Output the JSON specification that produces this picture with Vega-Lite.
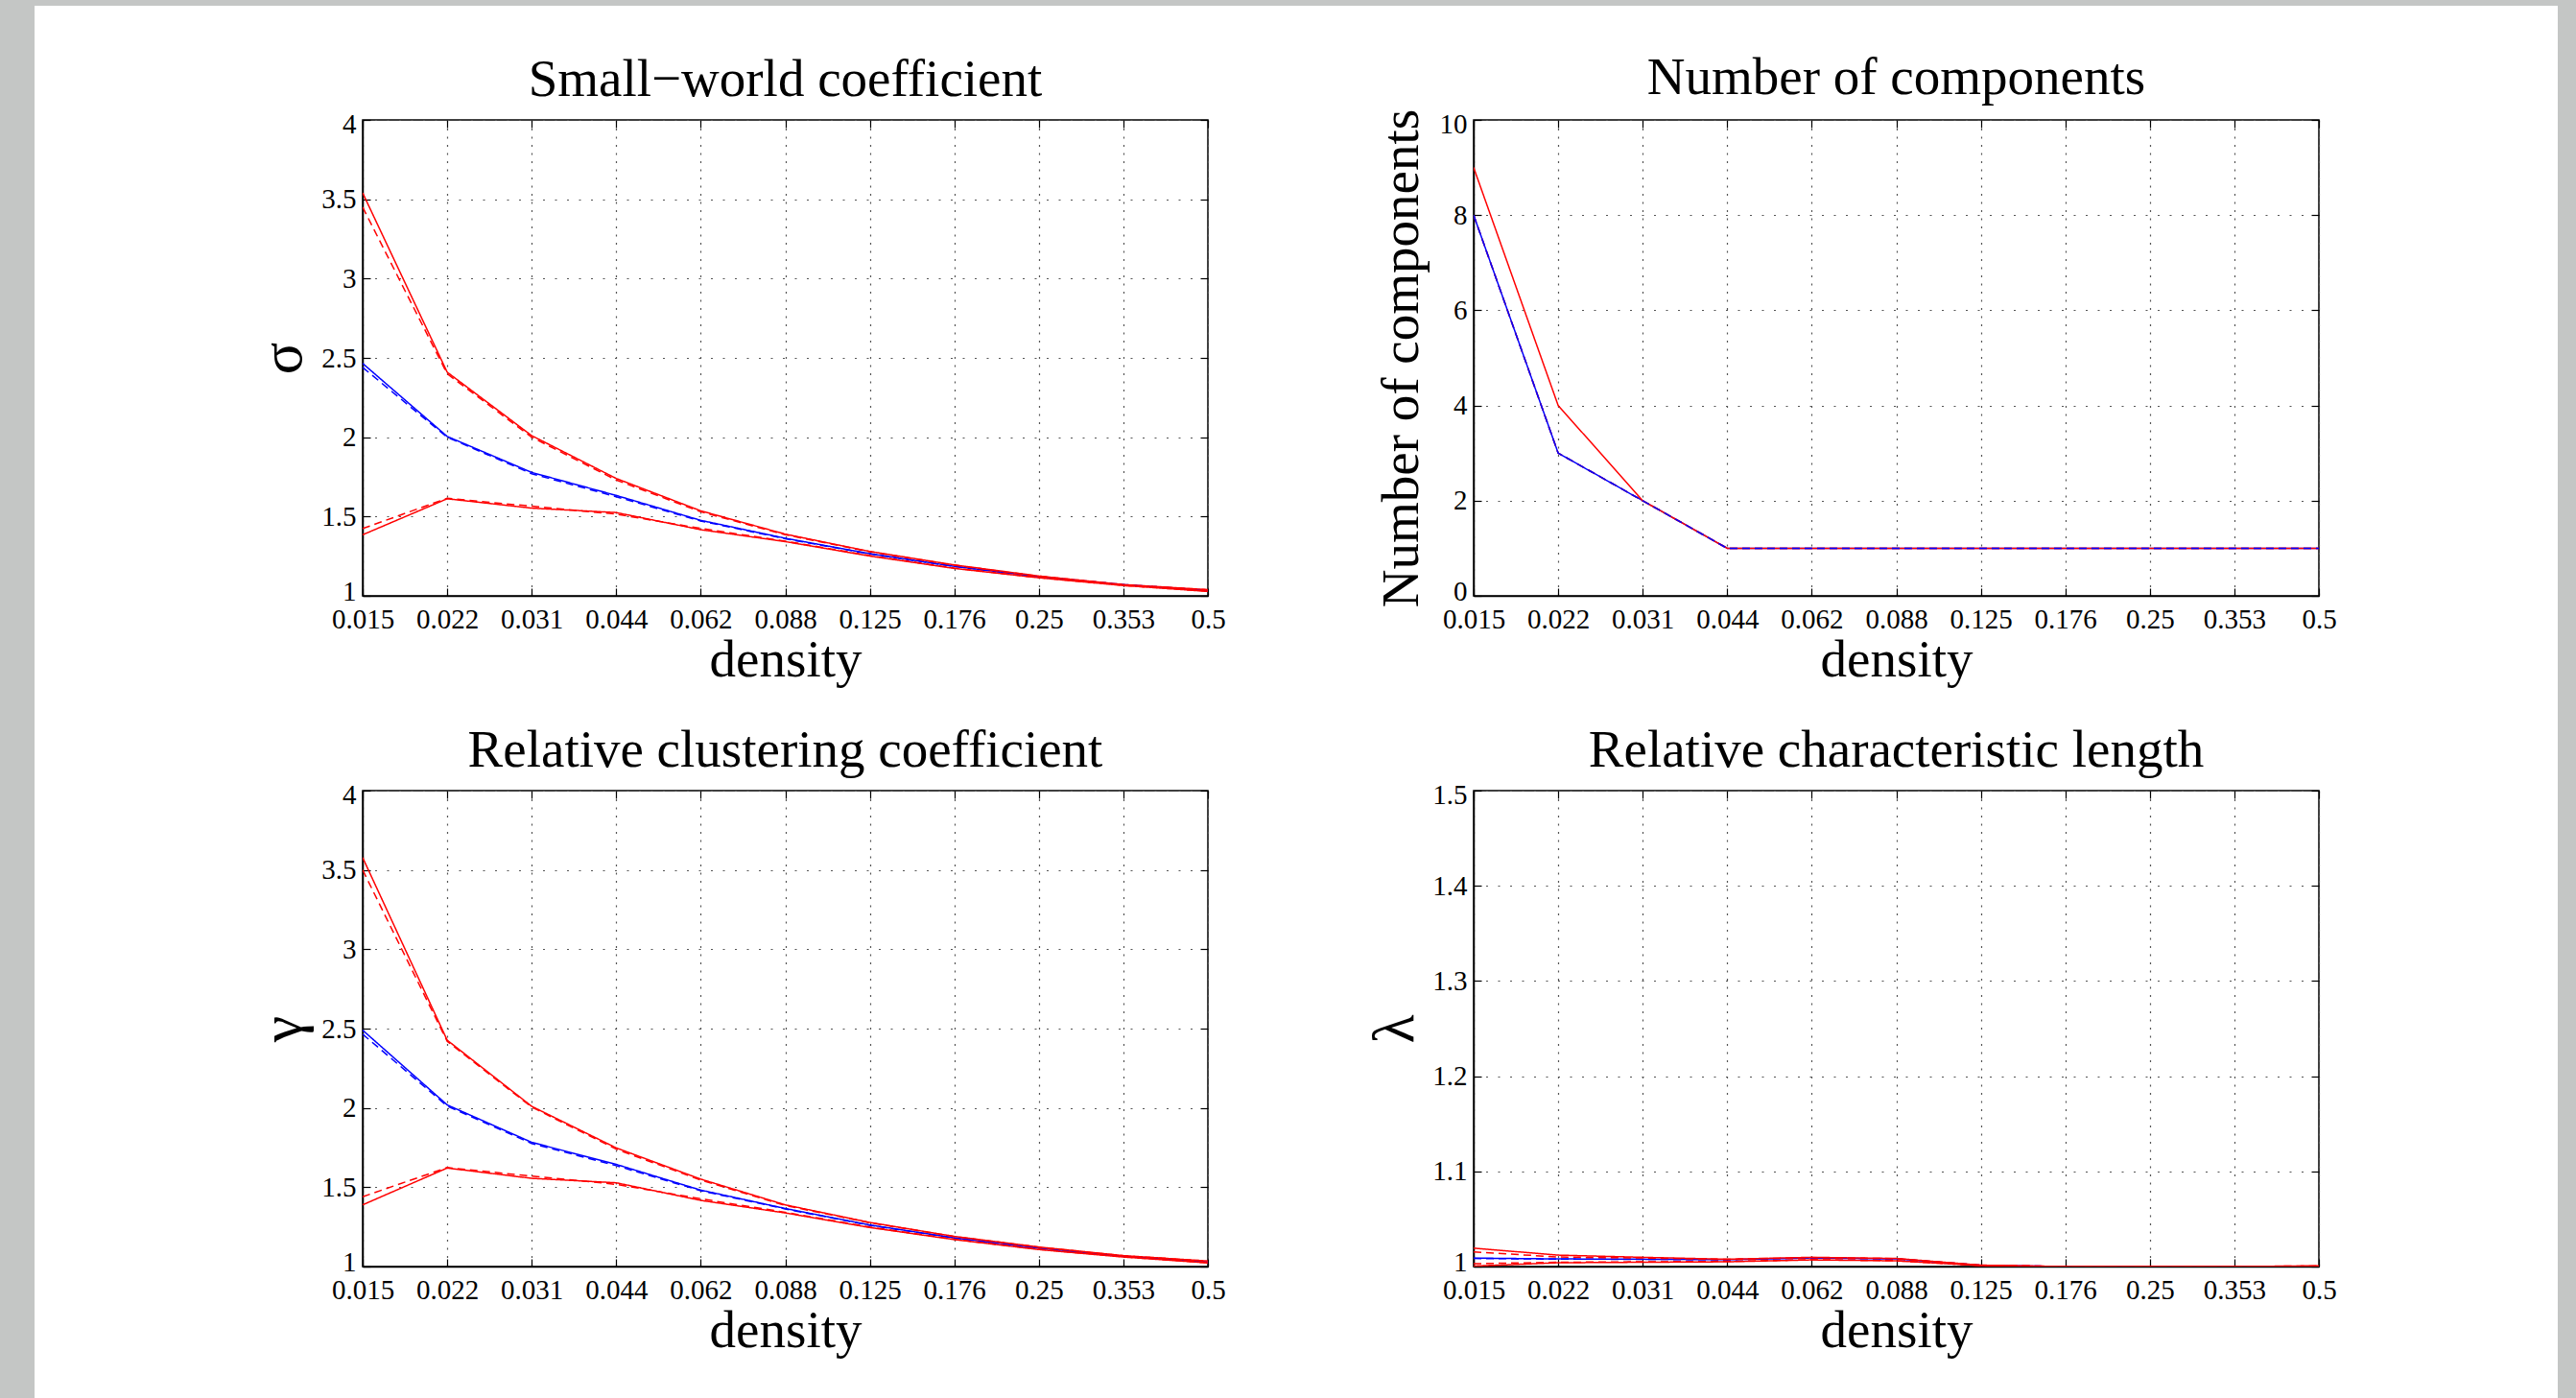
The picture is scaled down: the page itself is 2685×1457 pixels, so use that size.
{
  "$schema": "https://vega.github.io/schema/vega-lite/v6.json",
  "background": "white",
  "padding": 0,
  "datasets": {
    "sigma": [
      {"d":"0.015","s":"b","v":2.465},{"d":"0.022","s":"b","v":2.005},{"d":"0.031","s":"b","v":1.778},{"d":"0.044","s":"b","v":1.633},{"d":"0.062","s":"b","v":1.476},{"d":"0.088","s":"b","v":1.363},{"d":"0.125","s":"b","v":1.266},{"d":"0.176","s":"b","v":1.186},{"d":"0.25","s":"b","v":1.121},{"d":"0.353","s":"b","v":1.071},{"d":"0.5","s":"b","v":1.035},
      {"d":"0.015","s":"bd","v":2.44},{"d":"0.022","s":"bd","v":2.0},{"d":"0.031","s":"bd","v":1.77},{"d":"0.044","s":"bd","v":1.625},{"d":"0.062","s":"bd","v":1.472},{"d":"0.088","s":"bd","v":1.36},{"d":"0.125","s":"bd","v":1.264},{"d":"0.176","s":"bd","v":1.185},{"d":"0.25","s":"bd","v":1.12},{"d":"0.353","s":"bd","v":1.07},{"d":"0.5","s":"bd","v":1.034},
      {"d":"0.015","s":"ru","v":3.54},{"d":"0.022","s":"ru","v":2.41},{"d":"0.031","s":"ru","v":2.01},{"d":"0.044","s":"ru","v":1.74},{"d":"0.062","s":"ru","v":1.536},{"d":"0.088","s":"ru","v":1.389},{"d":"0.125","s":"ru","v":1.28},{"d":"0.176","s":"ru","v":1.195},{"d":"0.25","s":"ru","v":1.125},{"d":"0.353","s":"ru","v":1.071},{"d":"0.5","s":"ru","v":1.039},
      {"d":"0.015","s":"rud","v":3.45},{"d":"0.022","s":"rud","v":2.40},{"d":"0.031","s":"rud","v":2.0},{"d":"0.044","s":"rud","v":1.73},{"d":"0.062","s":"rud","v":1.53},{"d":"0.088","s":"rud","v":1.385},{"d":"0.125","s":"rud","v":1.278},{"d":"0.176","s":"rud","v":1.193},{"d":"0.25","s":"rud","v":1.124},{"d":"0.353","s":"rud","v":1.07},{"d":"0.5","s":"rud","v":1.038},
      {"d":"0.015","s":"rl","v":1.385},{"d":"0.022","s":"rl","v":1.612},{"d":"0.031","s":"rl","v":1.553},{"d":"0.044","s":"rl","v":1.525},{"d":"0.062","s":"rl","v":1.417},{"d":"0.088","s":"rl","v":1.342},{"d":"0.125","s":"rl","v":1.251},{"d":"0.176","s":"rl","v":1.173},{"d":"0.25","s":"rl","v":1.114},{"d":"0.353","s":"rl","v":1.065},{"d":"0.5","s":"rl","v":1.028},
      {"d":"0.015","s":"rld","v":1.424},{"d":"0.022","s":"rld","v":1.615},{"d":"0.031","s":"rld","v":1.565},{"d":"0.044","s":"rld","v":1.515},{"d":"0.062","s":"rld","v":1.425},{"d":"0.088","s":"rld","v":1.345},{"d":"0.125","s":"rld","v":1.254},{"d":"0.176","s":"rld","v":1.175},{"d":"0.25","s":"rld","v":1.115},{"d":"0.353","s":"rld","v":1.066},{"d":"0.5","s":"rld","v":1.029}
    ],
    "gamma": [
      {"d":"0.015","s":"b","v":2.49},{"d":"0.022","s":"b","v":2.019},{"d":"0.031","s":"b","v":1.783},{"d":"0.044","s":"b","v":1.644},{"d":"0.062","s":"b","v":1.482},{"d":"0.088","s":"b","v":1.366},{"d":"0.125","s":"b","v":1.262},{"d":"0.176","s":"b","v":1.181},{"d":"0.25","s":"b","v":1.116},{"d":"0.353","s":"b","v":1.065},{"d":"0.5","s":"b","v":1.028},
      {"d":"0.015","s":"bd","v":2.465},{"d":"0.022","s":"bd","v":2.012},{"d":"0.031","s":"bd","v":1.776},{"d":"0.044","s":"bd","v":1.636},{"d":"0.062","s":"bd","v":1.478},{"d":"0.088","s":"bd","v":1.363},{"d":"0.125","s":"bd","v":1.26},{"d":"0.176","s":"bd","v":1.18},{"d":"0.25","s":"bd","v":1.115},{"d":"0.353","s":"bd","v":1.064},{"d":"0.5","s":"bd","v":1.027},
      {"d":"0.015","s":"ru","v":3.578},{"d":"0.022","s":"ru","v":2.427},{"d":"0.031","s":"ru","v":2.01},{"d":"0.044","s":"ru","v":1.748},{"d":"0.062","s":"ru","v":1.551},{"d":"0.088","s":"ru","v":1.389},{"d":"0.125","s":"ru","v":1.278},{"d":"0.176","s":"ru","v":1.19},{"d":"0.25","s":"ru","v":1.123},{"d":"0.353","s":"ru","v":1.069},{"d":"0.5","s":"ru","v":1.035},
      {"d":"0.015","s":"rud","v":3.5},{"d":"0.022","s":"rud","v":2.42},{"d":"0.031","s":"rud","v":2.005},{"d":"0.044","s":"rud","v":1.74},{"d":"0.062","s":"rud","v":1.545},{"d":"0.088","s":"rud","v":1.385},{"d":"0.125","s":"rud","v":1.276},{"d":"0.176","s":"rud","v":1.189},{"d":"0.25","s":"rud","v":1.122},{"d":"0.353","s":"rud","v":1.068},{"d":"0.5","s":"rud","v":1.034},
      {"d":"0.015","s":"rl","v":1.389},{"d":"0.022","s":"rl","v":1.621},{"d":"0.031","s":"rl","v":1.556},{"d":"0.044","s":"rl","v":1.528},{"d":"0.062","s":"rl","v":1.417},{"d":"0.088","s":"rl","v":1.338},{"d":"0.125","s":"rl","v":1.246},{"d":"0.176","s":"rl","v":1.17},{"d":"0.25","s":"rl","v":1.107},{"d":"0.353","s":"rl","v":1.06},{"d":"0.5","s":"rl","v":1.023},
      {"d":"0.015","s":"rld","v":1.44},{"d":"0.022","s":"rld","v":1.624},{"d":"0.031","s":"rld","v":1.57},{"d":"0.044","s":"rld","v":1.518},{"d":"0.062","s":"rld","v":1.427},{"d":"0.088","s":"rld","v":1.342},{"d":"0.125","s":"rld","v":1.249},{"d":"0.176","s":"rld","v":1.172},{"d":"0.25","s":"rld","v":1.109},{"d":"0.353","s":"rld","v":1.061},{"d":"0.5","s":"rld","v":1.024}
    ],
    "comp": [
      {"d":"0.015","s":"b","v":8},{"d":"0.022","s":"b","v":3},{"d":"0.031","s":"b","v":2},{"d":"0.044","s":"b","v":1},{"d":"0.062","s":"b","v":1},{"d":"0.088","s":"b","v":1},{"d":"0.125","s":"b","v":1},{"d":"0.176","s":"b","v":1},{"d":"0.25","s":"b","v":1},{"d":"0.353","s":"b","v":1},{"d":"0.5","s":"b","v":1},
      {"d":"0.015","s":"rld","v":8},{"d":"0.022","s":"rld","v":3},{"d":"0.031","s":"rld","v":2},{"d":"0.044","s":"rld","v":1},{"d":"0.062","s":"rld","v":1},{"d":"0.088","s":"rld","v":1},{"d":"0.125","s":"rld","v":1},{"d":"0.176","s":"rld","v":1},{"d":"0.25","s":"rld","v":1},{"d":"0.353","s":"rld","v":1},{"d":"0.5","s":"rld","v":1},
      {"d":"0.015","s":"ru","v":9},{"d":"0.022","s":"ru","v":4},{"d":"0.031","s":"ru","v":2},{"d":"0.044","s":"ru","v":1},{"d":"0.062","s":"ru","v":1},{"d":"0.088","s":"ru","v":1},{"d":"0.125","s":"ru","v":1},{"d":"0.176","s":"ru","v":1},{"d":"0.25","s":"ru","v":1},{"d":"0.353","s":"ru","v":1},{"d":"0.5","s":"ru","v":1},
      {"d":"0.015","s":"bd","v":8},{"d":"0.022","s":"bd","v":3},{"d":"0.031","s":"bd","v":2},{"d":"0.044","s":"bd","v":1},{"d":"0.062","s":"bd","v":1},{"d":"0.088","s":"bd","v":1},{"d":"0.125","s":"bd","v":1},{"d":"0.176","s":"bd","v":1},{"d":"0.25","s":"bd","v":1},{"d":"0.353","s":"bd","v":1},{"d":"0.5","s":"bd","v":1}
    ],
    "lambda": [
      {"d":"0.015","s":"b","v":1.0089},{"d":"0.022","s":"b","v":1.008},{"d":"0.031","s":"b","v":1.0077},{"d":"0.044","s":"b","v":1.0072},{"d":"0.062","s":"b","v":1.009},{"d":"0.088","s":"b","v":1.008},{"d":"0.125","s":"b","v":1.0013},{"d":"0.176","s":"b","v":1.0},{"d":"0.25","s":"b","v":1.0},{"d":"0.353","s":"b","v":1.0},{"d":"0.5","s":"b","v":1.0003},
      {"d":"0.015","s":"bd","v":1.0085},{"d":"0.022","s":"bd","v":1.0078},{"d":"0.031","s":"bd","v":1.0076},{"d":"0.044","s":"bd","v":1.0071},{"d":"0.062","s":"bd","v":1.0089},{"d":"0.088","s":"bd","v":1.0079},{"d":"0.125","s":"bd","v":1.0013},{"d":"0.176","s":"bd","v":1.0},{"d":"0.25","s":"bd","v":1.0},{"d":"0.353","s":"bd","v":1.0},{"d":"0.5","s":"bd","v":1.0003},
      {"d":"0.015","s":"ru","v":1.0193},{"d":"0.022","s":"ru","v":1.012},{"d":"0.031","s":"ru","v":1.0097},{"d":"0.044","s":"ru","v":1.0077},{"d":"0.062","s":"ru","v":1.0097},{"d":"0.088","s":"ru","v":1.0085},{"d":"0.125","s":"ru","v":1.0015},{"d":"0.176","s":"ru","v":1.0},{"d":"0.25","s":"ru","v":1.0},{"d":"0.353","s":"ru","v":1.0},{"d":"0.5","s":"ru","v":1.0008},
      {"d":"0.015","s":"rud","v":1.0154},{"d":"0.022","s":"rud","v":1.010},{"d":"0.031","s":"rud","v":1.009},{"d":"0.044","s":"rud","v":1.0075},{"d":"0.062","s":"rud","v":1.0095},{"d":"0.088","s":"rud","v":1.0083},{"d":"0.125","s":"rud","v":1.0014},{"d":"0.176","s":"rud","v":1.0},{"d":"0.25","s":"rud","v":1.0},{"d":"0.353","s":"rud","v":1.0},{"d":"0.5","s":"rud","v":1.0007},
      {"d":"0.015","s":"rl","v":1.0005},{"d":"0.022","s":"rl","v":1.004},{"d":"0.031","s":"rl","v":1.0045},{"d":"0.044","s":"rl","v":1.005},{"d":"0.062","s":"rl","v":1.007},{"d":"0.088","s":"rl","v":1.006},{"d":"0.125","s":"rl","v":1.001},{"d":"0.176","s":"rl","v":1.0},{"d":"0.25","s":"rl","v":1.0},{"d":"0.353","s":"rl","v":1.0},{"d":"0.5","s":"rl","v":1.0},
      {"d":"0.015","s":"rld","v":1.003},{"d":"0.022","s":"rld","v":1.0045},{"d":"0.031","s":"rld","v":1.005},{"d":"0.044","s":"rld","v":1.0055},{"d":"0.062","s":"rld","v":1.0072},{"d":"0.088","s":"rld","v":1.0062},{"d":"0.125","s":"rld","v":1.001},{"d":"0.176","s":"rld","v":1.0},{"d":"0.25","s":"rld","v":1.0},{"d":"0.353","s":"rld","v":1.0},{"d":"0.5","s":"rld","v":1.0}
    ],
    "blank": [{"k": 1}]
  },
  "spacing": 0,
  "hconcat": [
    {"width": 36, "height": 1457, "data": {"name": "blank"}, "mark": {"type": "point", "opacity": 0}, "view": {"fill": "#c4c6c5", "stroke": null}},
    {
      "spacing": 47,
      "vconcat": [
        {"width": 2630, "height": 6, "data": {"name": "blank"}, "mark": {"type": "point", "opacity": 0}, "view": {"fill": "#c4c6c5", "stroke": null}},
        {
          "spacing": 143,
          "hconcat": [
            {"width": 82.5, "height": 10, "data": {"name": "blank"}, "mark": {"type": "point", "opacity": 0}, "view": {"stroke": null}},
            {
              "spacing": 203,
              "bounds": "flush",
              "vconcat": [
                {
                  "width": 881, "height": 496,
                  "title": "Small−world coefficient",
                  "data": {"name": "sigma"},
                  "layer": [
                    {
                      "mark": {"type": "line", "strokeWidth": 1.5, "clip": true},
                      "encoding": {
                        "x": {"field": "d", "type": "ordinal", "sort": ["0.015","0.022","0.031","0.044","0.062","0.088","0.125","0.176","0.25","0.353","0.5"], "scale": {"type": "point", "padding": 0}, "axis": {"title": "density"}},
                        "y": {"field": "v", "type": "quantitative", "scale": {"domain": [1, 4], "nice": false, "zero": false}, "axis": {"title": "σ", "titleFontSize": 62, "titlePadding": 22.5, "values": [1, 1.5, 2, 2.5, 3, 3.5, 4], "format": "~r"}},
                        "color": {"field": "s", "type": "nominal", "scale": {"domain": ["b","bd","ru","rud","rl","rld"], "range": ["#0000ff","#0000ff","#ff0000","#ff0000","#ff0000","#ff0000"]}, "legend": null},
                        "strokeDash": {"field": "s", "type": "nominal", "scale": {"domain": ["b","bd","ru","rud","rl","rld"], "range": [[1,0],[8,5],[1,0],[8,5],[1,0],[8,5]]}, "legend": null}
                      }
                    },
                    {
                      "mark": {"type": "point", "opacity": 0},
                      "encoding": {
                        "x": {"field": "d", "type": "ordinal", "sort": ["0.015","0.022","0.031","0.044","0.062","0.088","0.125","0.176","0.25","0.353","0.5"], "axis": {"orient": "top", "labels": false, "title": null, "grid": false, "domain": false, "minExtent": 0, "maxExtent": 0}},
                        "y": {"field": "v", "type": "quantitative", "axis": {"orient": "right", "labels": false, "title": null, "grid": false, "domain": false, "values": [1, 1.5, 2, 2.5, 3, 3.5, 4], "minExtent": 0, "maxExtent": 0}}
                      }
                    }
                  ],
                  "resolve": {"axis": {"x": "independent", "y": "independent"}}
                },
                {
                  "width": 881, "height": 496,
                  "title": "Relative clustering coefficient",
                  "data": {"name": "gamma"},
                  "layer": [
                    {
                      "mark": {"type": "line", "strokeWidth": 1.5, "clip": true},
                      "encoding": {
                        "x": {"field": "d", "type": "ordinal", "sort": ["0.015","0.022","0.031","0.044","0.062","0.088","0.125","0.176","0.25","0.353","0.5"], "scale": {"type": "point", "padding": 0}, "axis": {"title": "density"}},
                        "y": {"field": "v", "type": "quantitative", "scale": {"domain": [1, 4], "nice": false, "zero": false}, "axis": {"title": "γ", "titleFontSize": 62, "titlePadding": 22.5, "values": [1, 1.5, 2, 2.5, 3, 3.5, 4], "format": "~r"}},
                        "color": {"field": "s", "type": "nominal", "scale": {"domain": ["b","bd","ru","rud","rl","rld"], "range": ["#0000ff","#0000ff","#ff0000","#ff0000","#ff0000","#ff0000"]}, "legend": null},
                        "strokeDash": {"field": "s", "type": "nominal", "scale": {"domain": ["b","bd","ru","rud","rl","rld"], "range": [[1,0],[8,5],[1,0],[8,5],[1,0],[8,5]]}, "legend": null}
                      }
                    },
                    {
                      "mark": {"type": "point", "opacity": 0},
                      "encoding": {
                        "x": {"field": "d", "type": "ordinal", "sort": ["0.015","0.022","0.031","0.044","0.062","0.088","0.125","0.176","0.25","0.353","0.5"], "axis": {"orient": "top", "labels": false, "title": null, "grid": false, "domain": false, "minExtent": 0, "maxExtent": 0}},
                        "y": {"field": "v", "type": "quantitative", "axis": {"orient": "right", "labels": false, "title": null, "grid": false, "domain": false, "values": [1, 1.5, 2, 2.5, 3, 3.5, 4], "minExtent": 0, "maxExtent": 0}}
                      }
                    }
                  ],
                  "resolve": {"axis": {"x": "independent", "y": "independent"}}
                }
              ]
            },
            {
              "spacing": 203,
              "bounds": "flush",
              "vconcat": [
                {
                  "width": 881, "height": 496,
                  "title": "Number of components",
                  "data": {"name": "comp"},
                  "layer": [
                    {
                      "mark": {"type": "line", "strokeWidth": 1.5, "clip": true},
                      "encoding": {
                        "x": {"field": "d", "type": "ordinal", "sort": ["0.015","0.022","0.031","0.044","0.062","0.088","0.125","0.176","0.25","0.353","0.5"], "scale": {"type": "point", "padding": 0}, "axis": {"title": "density"}},
                        "y": {"field": "v", "type": "quantitative", "scale": {"domain": [0, 10], "nice": false}, "axis": {"title": "Number of components", "titlePadding": 16.5, "values": [0, 2, 4, 6, 8, 10], "format": "~r"}},
                        "color": {"field": "s", "type": "nominal", "scale": {"domain": ["b","rld","ru","bd"], "range": ["#0000ff","#ff0000","#ff0000","#0000ff"]}, "legend": null},
                        "strokeDash": {"field": "s", "type": "nominal", "scale": {"domain": ["b","rld","ru","bd"], "range": [[1,0],[8,5],[1,0],[8,5]]}, "legend": null}
                      }
                    },
                    {
                      "mark": {"type": "point", "opacity": 0},
                      "encoding": {
                        "x": {"field": "d", "type": "ordinal", "sort": ["0.015","0.022","0.031","0.044","0.062","0.088","0.125","0.176","0.25","0.353","0.5"], "axis": {"orient": "top", "labels": false, "title": null, "grid": false, "domain": false, "minExtent": 0, "maxExtent": 0}},
                        "y": {"field": "v", "type": "quantitative", "axis": {"orient": "right", "labels": false, "title": null, "grid": false, "domain": false, "values": [0, 2, 4, 6, 8, 10], "minExtent": 0, "maxExtent": 0}}
                      }
                    }
                  ],
                  "resolve": {"axis": {"x": "independent", "y": "independent"}}
                },
                {
                  "width": 881, "height": 496,
                  "title": "Relative characteristic length",
                  "data": {"name": "lambda"},
                  "layer": [
                    {
                      "mark": {"type": "line", "strokeWidth": 1.5, "clip": true},
                      "encoding": {
                        "x": {"field": "d", "type": "ordinal", "sort": ["0.015","0.022","0.031","0.044","0.062","0.088","0.125","0.176","0.25","0.353","0.5"], "scale": {"type": "point", "padding": 0}, "axis": {"title": "density"}},
                        "y": {"field": "v", "type": "quantitative", "scale": {"domain": [1, 1.5], "nice": false, "zero": false}, "axis": {"title": "λ", "titleFontSize": 62, "titlePadding": 22, "values": [1, 1.1, 1.2, 1.3, 1.4, 1.5], "format": "~r"}},
                        "color": {"field": "s", "type": "nominal", "scale": {"domain": ["b","bd","ru","rud","rl","rld"], "range": ["#0000ff","#0000ff","#ff0000","#ff0000","#ff0000","#ff0000"]}, "legend": null},
                        "strokeDash": {"field": "s", "type": "nominal", "scale": {"domain": ["b","bd","ru","rud","rl","rld"], "range": [[1,0],[8,5],[1,0],[8,5],[1,0],[8,5]]}, "legend": null}
                      }
                    },
                    {
                      "mark": {"type": "point", "opacity": 0},
                      "encoding": {
                        "x": {"field": "d", "type": "ordinal", "sort": ["0.015","0.022","0.031","0.044","0.062","0.088","0.125","0.176","0.25","0.353","0.5"], "axis": {"orient": "top", "labels": false, "title": null, "grid": false, "domain": false, "minExtent": 0, "maxExtent": 0}},
                        "y": {"field": "v", "type": "quantitative", "axis": {"orient": "right", "labels": false, "title": null, "grid": false, "domain": false, "values": [1, 1.1, 1.2, 1.3, 1.4, 1.5], "minExtent": 0, "maxExtent": 0}}
                      }
                    }
                  ],
                  "resolve": {"axis": {"x": "independent", "y": "independent"}}
                }
              ]
            }
          ]
        }
      ]
    },
    {"width": 19, "height": 1457, "data": {"name": "blank"}, "mark": {"type": "point", "opacity": 0}, "view": {"fill": "#c4c6c5", "stroke": null}}
  ],
  "config": {
    "font": "Liberation Serif",
    "view": {"stroke": "#000000", "strokeWidth": 1.5},
    "axis": {
      "domainColor": "#000000", "domainWidth": 1.5,
      "ticks": true, "tickColor": "#000000", "tickSize": -8, "tickWidth": 1.2,
      "labelFont": "Liberation Serif", "labelFontSize": 29, "labelColor": "#000000",
      "titleFont": "Liberation Serif", "titleFontSize": 55, "titleFontWeight": "normal", "titleColor": "#000000",
      "grid": true, "gridColor": "#555555", "gridWidth": 1.2, "gridOpacity": 1
    },
    "axisX": {"labelPadding": 18, "labelAngle": 0, "labelOverlap": false, "titleBaseline": "alphabetic", "titlePadding": 44, "gridDash": [2, 6.5]},
    "axisY": {"labelPadding": 15, "labelFlush": true, "labelFlushOffset": 10, "minExtent": 42, "maxExtent": 42, "titlePadding": 22.5, "titleBaseline": "alphabetic", "gridDash": [2, 10.5]},
    "title": {"font": "Liberation Serif", "fontSize": 55, "fontWeight": "normal", "color": "#000000", "baseline": "alphabetic", "offset": 3.5, "frame": "group", "anchor": "middle"}
  }
}
